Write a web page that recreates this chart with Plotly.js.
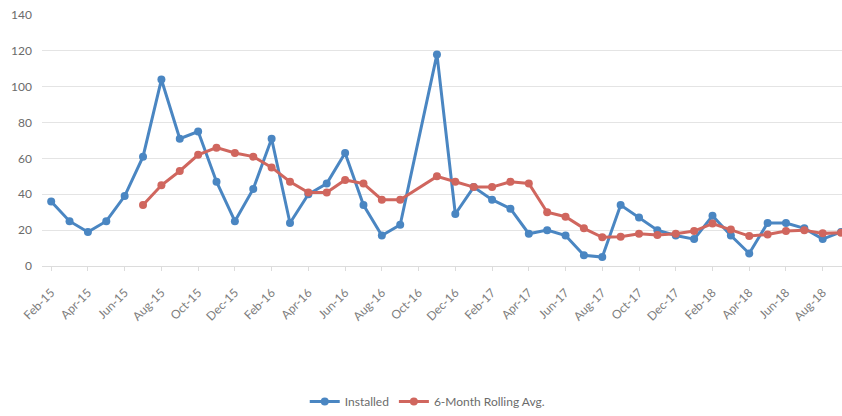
<!DOCTYPE html>
<html>
<head>
<meta charset="utf-8">
<script src="https://cdn.plot.ly/plotly-3.0.1.min.js"></script>
<style>
  html, body { margin: 0; padding: 0; background: #ffffff; }
  #chart { width: 842px; height: 416px; }
</style>
</head>
<body>
<div id="chart"></div>
<script>
// Monthly installs, Feb-15 through Sep-18 (no record for Oct-16)
const months = [
  "Feb-15","Mar-15","Apr-15","May-15","Jun-15","Jul-15","Aug-15","Sep-15","Oct-15","Nov-15","Dec-15",
  "Jan-16","Feb-16","Mar-16","Apr-16","May-16","Jun-16","Jul-16","Aug-16","Sep-16","Oct-16","Nov-16","Dec-16",
  "Jan-17","Feb-17","Mar-17","Apr-17","May-17","Jun-17","Jul-17","Aug-17","Sep-17","Oct-17","Nov-17","Dec-17",
  "Jan-18","Feb-18","Mar-18","Apr-18","May-18","Jun-18","Jul-18","Aug-18","Sep-18"
];

const installed = [
  36, 25, 19, 25, 39, 61, 104, 71, 75, 47, 25,
  43, 71, 24, 40, 46, 63, 34, 17, 23, null, 118, 29,
  44, 37, 32, 18, 20, 17, 6, 5, 34, 27, 20, 17,
  15, 28, 17, 7, 24, 24, 21, 15, 19
];

const rollingAvg = [
  null, null, null, null, null, 34, 45, 53, 62, 66, 63,
  61, 55, 47, 41, 41, 48, 46, 37, 37, null, 50, 47,
  44, 44, 47, 46, 30, 27.5, 21, 16, 16.3, 18, 17.3, 18,
  19.5, 23.7, 20.4, 16.7, 17.6, 19.5, 20, 18.2, 18.6
];

// Every other month is labelled on the axis
const tickMonths = months.filter((m, i) => i % 2 === 0);

const blue = "#4a86c2";
const red = "#d0665e";

const traces = [
  {
    x: months, y: installed, name: "Installed",
    type: "scatter", mode: "lines+markers", connectgaps: true,
    line: { color: blue, width: 3 },
    marker: { color: blue, size: 8 }
  },
  {
    x: months, y: rollingAvg, name: "6-Month Rolling Avg.",
    type: "scatter", mode: "lines+markers", connectgaps: true,
    line: { color: red, width: 3 },
    marker: { color: red, size: 8 }
  }
];

const layout = {
  width: 842, height: 416,
  margin: { l: 42, r: 0, t: 15, b: 150, pad: 0, autoexpand: false },
  paper_bgcolor: "#ffffff", plot_bgcolor: "#ffffff",
  font: { family: "Lato, 'Liberation Sans', sans-serif", color: "#6b6b6b" },
  showlegend: true,
  xaxis: {
    type: "category", automargin: false,
    categoryorder: "array", categoryarray: months,
    range: [-0.5, 43.05],
    tickmode: "array", tickvals: tickMonths, ticktext: tickMonths,
    tickangle: -45,
    tickfont: { size: 12, color: "#7d7d7d" },
    ticks: "outside", ticklen: 4, tickcolor: "#dcdcdc",
    ticklabelstandoff: 10,
    showgrid: false, zeroline: false,
    showline: true, linecolor: "#dcdcdc", linewidth: 1
  },
  yaxis: {
    range: [0, 140], dtick: 20, automargin: false,
    tickfont: { size: 12, color: "#6b6b6b" },
    showgrid: true, gridcolor: "#e4e4e4", gridwidth: 1,
    zeroline: false, showline: false, ticks: "",
    ticklabelstandoff: 9
  },
  legend: {
    orientation: "h",
    xref: "container", x: 0.508, xanchor: "center",
    yref: "container", y: 0.0, yanchor: "bottom",
    font: { size: 12, color: "#6b6b6b" },
    itemwidth: 30
  }
};

Plotly.newPlot("chart", traces, layout, { displayModeBar: false, staticPlot: true });
</script>
</body>
</html>
